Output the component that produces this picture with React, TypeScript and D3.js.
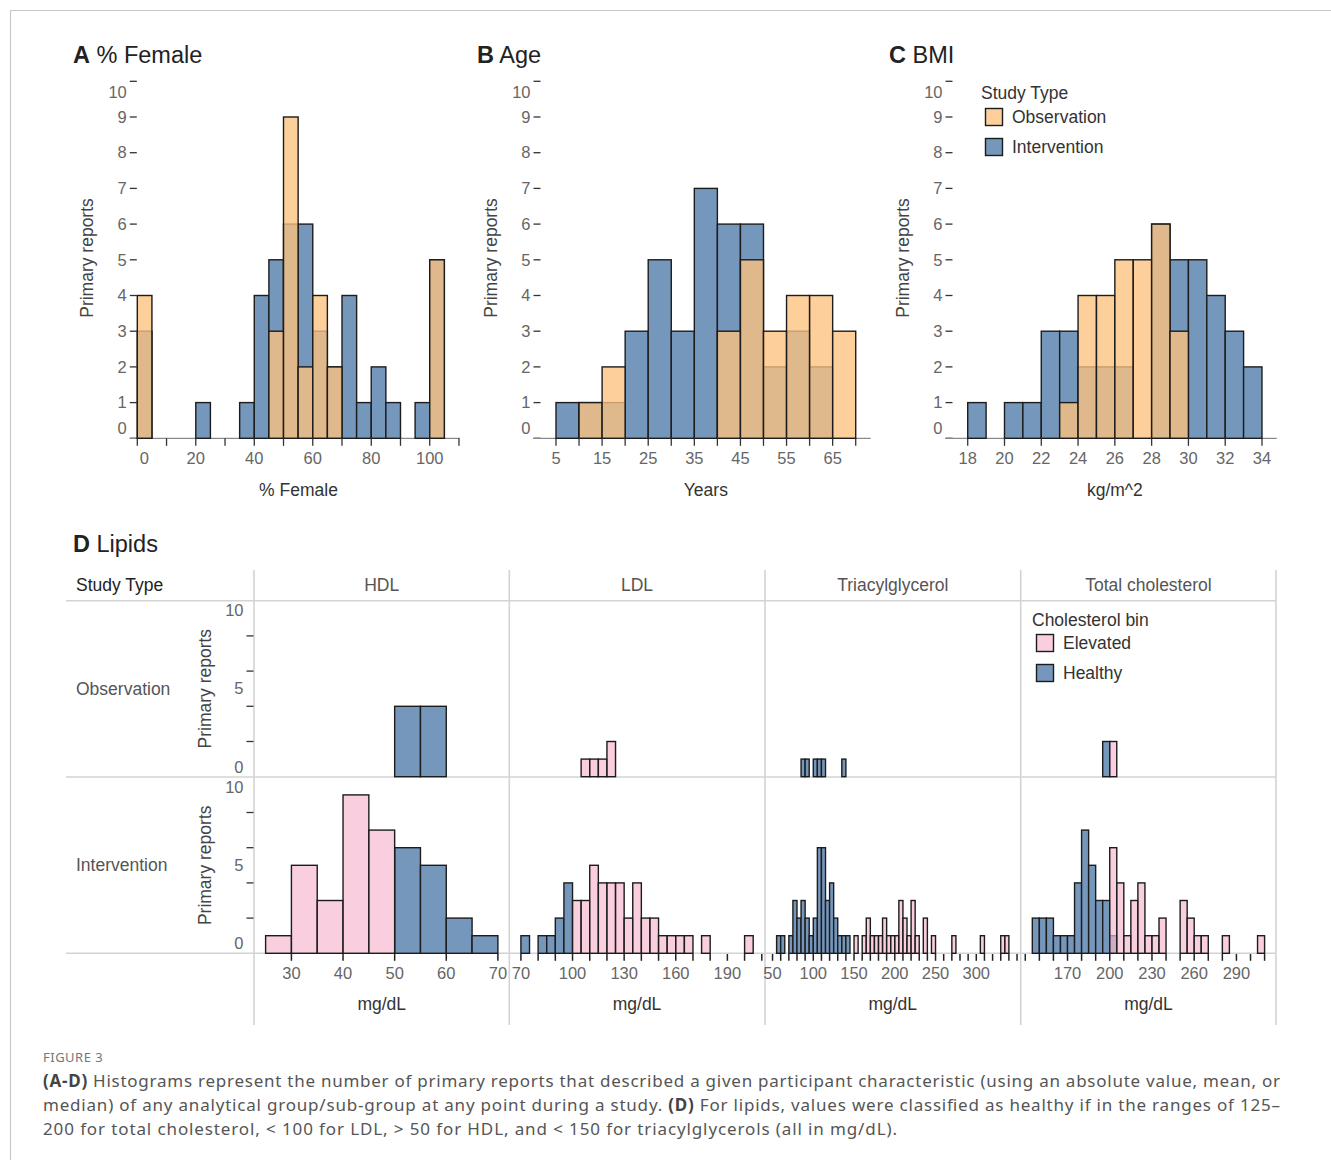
import React from 'react';
import * as d3 from 'd3';

// ---------------- Panel A: % Female (bin width 5) ----------------
const femaleBinStarts = [0, 5, 10, 15, 20, 25, 30, 35, 40, 45, 50, 55, 60, 65, 70, 75, 80, 85, 90, 95, 100];
const femaleObservation = [4, 0, 0, 0, 0, 0, 0, 0, 0, 3, 9, 2, 4, 2, 0, 0, 0, 0, 0, 0, 5];
const femaleIntervention = [3, 0, 0, 0, 1, 0, 0, 1, 4, 5, 6, 6, 3, 2, 4, 1, 2, 1, 0, 1, 5];
const femaleTicks = [0, 10, 20, 30, 40, 50, 60, 70, 80, 90, 100, 110];
const femaleTickLabels = [0, 20, 40, 60, 80, 100];

// ---------------- Panel B: Age (bin width 5) ----------------
const ageBinStarts = [5, 10, 15, 20, 25, 30, 35, 40, 45, 50, 55, 60, 65];
const ageObservation = [0, 1, 2, 0, 0, 0, 0, 3, 5, 3, 4, 4, 3];
const ageIntervention = [1, 1, 1, 3, 5, 3, 7, 6, 6, 2, 3, 2, 0];
const ageTicks = [5, 10, 15, 20, 25, 30, 35, 40, 45, 50, 55, 60, 65, 70];
const ageTickLabels = [5, 15, 25, 35, 45, 55, 65];

// ---------------- Panel C: BMI (bin width 1) ----------------
const bmiBinStarts = [18, 19, 20, 21, 22, 23, 24, 25, 26, 27, 28, 29, 30, 31, 32, 33];
const bmiObservation = [0, 0, 0, 0, 0, 1, 4, 4, 5, 5, 6, 3, 0, 0, 0, 0];
const bmiIntervention = [1, 0, 1, 1, 3, 3, 2, 2, 2, 0, 6, 5, 5, 4, 3, 2];
const bmiTicks = [18, 20, 22, 24, 26, 28, 30, 32, 34];
const bmiTickLabels = [18, 20, 22, 24, 26, 28, 30, 32, 34];

const countTicks = [0, 1, 2, 3, 4, 5, 6, 7, 8, 9, 10];

// ---------------- Panel D: Lipids, [bin start, count] (bin width 5) ----------------
const hdlObsHealthy = [[50, 4], [55, 4]];
const hdlObsElevated: number[][] = [];
const hdlIntHealthy = [[50, 6], [55, 5], [60, 2], [65, 1]];
const hdlIntElevated = [[25, 1], [30, 5], [35, 3], [40, 9], [45, 7]];
const hdlTicks = [30, 40, 50, 60, 70];
const hdlTickLabels = [30, 40, 50, 60, 70];

const ldlObsHealthy: number[][] = [];
const ldlObsElevated = [[105, 1], [110, 1], [115, 1], [120, 2]];
const ldlIntHealthy = [[70, 1], [80, 1], [85, 1], [90, 2], [95, 4]];
const ldlIntElevated = [[100, 3], [105, 3], [110, 5], [115, 4], [120, 4], [125, 4], [130, 2], [135, 4], [140, 2], [145, 2], [150, 1], [155, 1], [160, 1], [165, 1], [175, 1], [200, 1]];
const ldlTicks = [70, 80, 90, 100, 110, 120, 130, 140, 150, 160, 170, 180, 190, 200, 210];
const ldlTickLabels = [70, 100, 130, 160, 190];

const triObsHealthy = [[85, 1], [90, 1], [100, 1], [105, 1], [110, 1], [135, 1]];
const triObsElevated: number[][] = [];
const triIntHealthy = [[55, 1], [60, 1], [70, 1], [75, 3], [80, 2], [85, 3], [90, 2], [95, 1], [100, 2], [105, 6], [110, 6], [115, 3], [120, 4], [125, 2], [130, 1], [135, 1], [140, 1]];
const triIntElevated = [[150, 1], [160, 1], [165, 2], [170, 1], [175, 1], [180, 1], [185, 2], [190, 1], [195, 1], [200, 1], [205, 3], [210, 2], [215, 1], [220, 3], [225, 1], [235, 2], [245, 1], [270, 1], [305, 1], [330, 1], [335, 1]];
const triTicks = [50, 60, 70, 80, 90, 100, 110, 120, 130, 140, 150, 160, 170, 180, 190, 200, 210, 220, 230, 240, 250, 260, 270, 280, 290, 300, 310, 320, 330, 340, 350];
const triTickLabels = [50, 100, 150, 200, 250, 300];

const tcObsHealthy = [[195, 2]];
const tcObsElevated = [[200, 2]];
const tcIntHealthy = [[145, 2], [150, 2], [155, 2], [160, 1], [165, 1], [170, 1], [175, 4], [180, 7], [185, 5], [190, 3], [195, 3], [200, 1]];
const tcIntElevated = [[200, 6], [205, 4], [210, 1], [215, 3], [220, 4], [225, 1], [230, 1], [235, 2], [250, 3], [255, 2], [260, 1], [265, 1], [280, 1], [305, 1]];
const tcTicks = [140, 150, 160, 170, 180, 190, 200, 210, 220, 230, 240, 250, 260, 270, 280, 290, 300, 310];
const tcTickLabels = [170, 200, 230, 260, 290];

const lipidTickLabelsY = [0, 5, 10];
const lipidTickMarksY = [2, 4, 6, 8];

// ---------------- styles ----------------
const W = 1331;
const H = 1160;
const FONT = '"Liberation Sans", Arial, Helvetica, sans-serif';
const CAPTION_FONT = '"Noto Sans", "Open Sans", sans-serif';
const BLUE = '#7697bc';
const ORANGE = 'rgb(253,195,127)';
const ORANGE_OP = 0.78;
const PINK = 'rgb(246,183,206)';
const PINK_OP = 0.68;
const OUTLINE = '#1c1c1c';
const TICK_TEXT = '#666';
const TITLE_TEXT = '#333';
const GRID = '#d3d3d3';
const TXT = 17.5;
const TICK_FS = 16.5;

const TOP_Y0 = 438.3;
const TOP_Y10 = 81.3;

interface TopSpec {
  letter: string;
  name: string;
  titleX: number;
  left: number;
  right: number;
  domain: [number, number];
  starts: number[];
  bw: number;
  obs: number[];
  int: number[];
  ticks: number[];
  labels: number[];
  xTitle: string;
  firstLabelDx: number;
}

const topPanels: TopSpec[] = [
  { letter: 'A', name: '% Female', titleX: 73, left: 137.3, right: 459.7, domain: [0, 110.25], starts: femaleBinStarts, bw: 5, obs: femaleObservation, int: femaleIntervention, ticks: femaleTicks, labels: femaleTickLabels, xTitle: '% Female', firstLabelDx: 7 },
  { letter: 'B', name: 'Age', titleX: 477, left: 541, right: 870.7, domain: [1.75, 73.25], starts: ageBinStarts, bw: 5, obs: ageObservation, int: ageIntervention, ticks: ageTicks, labels: ageTickLabels, xTitle: 'Years', firstLabelDx: 0 },
  { letter: 'C', name: 'BMI', titleX: 889, left: 953, right: 1276.7, domain: [17.2, 34.8], starts: bmiBinStarts, bw: 1, obs: bmiObservation, int: bmiIntervention, ticks: bmiTicks, labels: bmiTickLabels, xTitle: 'kg/m^2', firstLabelDx: 0 },
];

function Bars({ data, bw, xs, ys, fill, opacity }: { data: number[][]; bw: number; xs: any; ys: any; fill: string; opacity: number }) {
  return (
    <g>
      {data.filter((d) => d[1] > 0).map(([s, c], i) => (
        <rect
          key={i}
          x={xs(s)}
          y={ys(c)}
          width={xs(s + bw) - xs(s)}
          height={ys(0) - ys(c)}
          fill={fill}
          fillOpacity={opacity}
          stroke={OUTLINE}
          strokeWidth={1.4}
        />
      ))}
    </g>
  );
}

function labelShift(v: number) {
  if (v === 10) return 10.5;
  if (v === 0) return -10.5;
  return 0;
}

function TopPanel({ p }: { p: TopSpec }) {
  const xs = d3.scaleLinear().domain(p.domain).range([p.left, p.right]);
  const ys = d3.scaleLinear().domain([0, 10]).range([TOP_Y0, TOP_Y10]);
  const intPairs = p.starts.map((s, i) => [s, p.int[i]]);
  const obsPairs = p.starts.map((s, i) => [s, p.obs[i]]);
  const cx = (p.left + p.right) / 2;
  return (
    <g>
      <text x={p.titleX} y={63} fontSize={23.5} fill="#222">
        <tspan fontWeight="bold">{p.letter}</tspan>
        {' ' + p.name}
      </text>
      {countTicks.map((v) => (
        <g key={'yt' + v}>
          <line x1={p.left - 7.5} x2={p.left - 0.5} y1={ys(v)} y2={ys(v)} stroke="#333" strokeWidth={1.3} />
          <text x={p.left - 10.5} y={ys(v) + labelShift(v)} dy="0.35em" textAnchor="end" fontSize={TICK_FS} fill={TICK_TEXT}>
            {v}
          </text>
        </g>
      ))}
      <line x1={p.left - 7.5} x2={p.right} y1={ys(0)} y2={ys(0)} stroke="#8a8a8a" strokeWidth={1.3} />
      <Bars data={intPairs} bw={p.bw} xs={xs} ys={ys} fill={BLUE} opacity={1} />
      <Bars data={obsPairs} bw={p.bw} xs={xs} ys={ys} fill={ORANGE} opacity={ORANGE_OP} />
      {p.ticks.map((t) => (
        <line key={'xt' + t} x1={xs(t)} x2={xs(t)} y1={ys(0)} y2={ys(0) + 7.5} stroke="#333" strokeWidth={1.3} />
      ))}
      {p.labels.map((t, i) => (
        <text key={'xl' + t} x={xs(t) + (i === 0 ? p.firstLabelDx : 0)} y={458.5} dy="0.35em" textAnchor="middle" fontSize={TICK_FS} fill={TICK_TEXT}>
          {t}
        </text>
      ))}
      <text x={cx} y={490} dy="0.35em" textAnchor="middle" fontSize={TXT} fill={TITLE_TEXT}>
        {p.xTitle}
      </text>
      <text transform={`translate(${p.left - 50},258) rotate(-90)`} dy="0.35em" textAnchor="middle" fontSize={TXT} fill="#444">
        Primary reports
      </text>
    </g>
  );
}

function StudyLegend() {
  return (
    <g fontSize={TXT}>
      <text x={981} y={93} dy="0.35em" fill={TITLE_TEXT}>Study Type</text>
      <rect x={985.5} y={108.5} width={17} height={17} fill={ORANGE} fillOpacity={ORANGE_OP} stroke={OUTLINE} strokeWidth={1.4} />
      <text x={1012} y={117} dy="0.35em" fill={TITLE_TEXT}>Observation</text>
      <rect x={985.5} y={138.5} width={17} height={17} fill={BLUE} stroke={OUTLINE} strokeWidth={1.4} />
      <text x={1012} y={147} dy="0.35em" fill={TITLE_TEXT}>Intervention</text>
    </g>
  );
}

// ---------------- Panel D ----------------
const LIPID_BW = 5;
const D_LEFTS = [254, 509.3, 765, 1020.7];
const D_W = 255.5;
const D_RIGHT = 1276;
const OBS_Y = [776.7, 600.7];
const INT_Y = [953.3, 777.3];

const lipidColumns = [
  { name: 'HDL', obsH: hdlObsHealthy, obsE: hdlObsElevated, intH: hdlIntHealthy, intE: hdlIntElevated, ticks: hdlTicks, labels: hdlTickLabels },
  { name: 'LDL', obsH: ldlObsHealthy, obsE: ldlObsElevated, intH: ldlIntHealthy, intE: ldlIntElevated, ticks: ldlTicks, labels: ldlTickLabels },
  { name: 'Triacylglycerol', obsH: triObsHealthy, obsE: triObsElevated, intH: triIntHealthy, intE: triIntElevated, ticks: triTicks, labels: triTickLabels },
  { name: 'Total cholesterol', obsH: tcObsHealthy, obsE: tcObsElevated, intH: tcIntHealthy, intE: tcIntElevated, ticks: tcTicks, labels: tcTickLabels },
];

function LipidPanel() {
  const rows = [
    { label: 'Observation', range: OBS_Y },
    { label: 'Intervention', range: INT_Y },
  ];
  return (
    <g>
      <text x={73} y={552} fontSize={23.5} fill="#222">
        <tspan fontWeight="bold">D</tspan>
        {' Lipids'}
      </text>
      {[600.7, 777, 953.3].map((y) => (
        <line key={'h' + y} x1={66} x2={D_RIGHT} y1={y} y2={y} stroke={GRID} strokeWidth={1.6} />
      ))}
      {[...D_LEFTS, D_RIGHT].map((x) => (
        <line key={'v' + x} x1={x} x2={x} y1={570} y2={1025} stroke={GRID} strokeWidth={1.6} />
      ))}
      <text x={76} y={585} dy="0.35em" fontSize={TXT} fill="#222">Study Type</text>
      {lipidColumns.map((c, i) => (
        <text key={'hdr' + c.name} x={D_LEFTS[i] + D_W / 2} y={585} dy="0.35em" textAnchor="middle" fontSize={TXT} fill="#555">
          {c.name}
        </text>
      ))}
      {rows.map((r) => {
        const ys = d3.scaleLinear().domain([0, 10]).range(r.range);
        const mid = ys(5);
        return (
          <g key={r.label}>
            <text x={76} y={mid} dy="0.35em" fontSize={TXT} fill="#555">{r.label}</text>
            <text transform={`translate(205,${mid}) rotate(-90)`} dy="0.35em" textAnchor="middle" fontSize={TXT} fill="#444">
              Primary reports
            </text>
            {lipidTickMarksY.map((v) => (
              <line key={'tm' + v} x1={246.5} x2={253.5} y1={ys(v)} y2={ys(v)} stroke="#333" strokeWidth={1.3} />
            ))}
            {lipidTickLabelsY.map((v) => (
              <text key={'tl' + v} x={243.5} y={ys(v) + labelShift(v) * 0.92} dy="0.35em" textAnchor="end" fontSize={TICK_FS} fill={TICK_TEXT}>
                {v}
              </text>
            ))}
          </g>
        );
      })}
      {lipidColumns.map((c, i) => {
        const all = [...c.obsH, ...c.obsE, ...c.intH, ...c.intE];
        const lo = d3.min(all, (d) => d[0]) as number;
        const hi = (d3.max(all, (d) => d[0]) as number) + LIPID_BW;
        const pad = (hi - lo) * 0.05;
        const xs = d3.scaleLinear().domain([lo - pad, hi + pad]).range([D_LEFTS[i], D_LEFTS[i] + D_W]);
        const ysObs = d3.scaleLinear().domain([0, 10]).range(OBS_Y);
        const ysInt = d3.scaleLinear().domain([0, 10]).range(INT_Y);
        const cx = D_LEFTS[i] + D_W / 2;
        return (
          <g key={'col' + c.name}>
            <Bars data={c.obsH} bw={LIPID_BW} xs={xs} ys={ysObs} fill={BLUE} opacity={1} />
            <Bars data={c.obsE} bw={LIPID_BW} xs={xs} ys={ysObs} fill={PINK} opacity={PINK_OP} />
            <Bars data={c.intH} bw={LIPID_BW} xs={xs} ys={ysInt} fill={BLUE} opacity={1} />
            <Bars data={c.intE} bw={LIPID_BW} xs={xs} ys={ysInt} fill={PINK} opacity={PINK_OP} />
            {c.ticks.map((t) => (
              <line key={'xt' + t} x1={xs(t)} x2={xs(t)} y1={954} y2={960.8} stroke="#222" strokeWidth={1.5} />
            ))}
            {c.labels.map((t) => (
              <text key={'xl' + t} x={xs(t)} y={973.5} dy="0.35em" textAnchor="middle" fontSize={TICK_FS} fill={TICK_TEXT}>
                {t}
              </text>
            ))}
            <text x={cx} y={1004} dy="0.35em" textAnchor="middle" fontSize={TXT} fill={TITLE_TEXT}>
              mg/dL
            </text>
          </g>
        );
      })}
      <g fontSize={TXT}>
        <text x={1032} y={620} dy="0.35em" fill={TITLE_TEXT}>Cholesterol bin</text>
        <rect x={1036.5} y={634.5} width={17} height={17} fill={PINK} fillOpacity={PINK_OP} stroke={OUTLINE} strokeWidth={1.4} />
        <text x={1063} y={643} dy="0.35em" fill={TITLE_TEXT}>Elevated</text>
        <rect x={1036.5} y={664.5} width={17} height={17} fill={BLUE} stroke={OUTLINE} strokeWidth={1.4} />
        <text x={1063} y={673} dy="0.35em" fill={TITLE_TEXT}>Healthy</text>
      </g>
    </g>
  );
}

function Caption() {
  return (
    <g fontFamily={CAPTION_FONT} fill="#555">
      <text x={43} y={1057} dy="0.35em" fontSize={13} letterSpacing={0.5} fill="#777">FIGURE 3</text>
      <text x={43} y={1081} dy="0.35em" fontSize={17} textLength={1237} lengthAdjust="spacing">
        <tspan fontWeight="bold" fill="#444">(A-D)</tspan>
        {' Histograms represent the number of primary reports that described a given participant characteristic (using an absolute value, mean, or'}
      </text>
      <text x={43} y={1105} dy="0.35em" fontSize={17} textLength={1237} lengthAdjust="spacing">
        {'median) of any analytical group/sub-group at any point during a study. '}
        <tspan fontWeight="bold" fill="#444">(D)</tspan>
        {' For lipids, values were classified as healthy if in the ranges of 125–'}
      </text>
      <text x={43} y={1129} dy="0.35em" fontSize={17} textLength={854} lengthAdjust="spacing">
        {'200 for total cholesterol, < 100 for LDL, > 50 for HDL, and < 150 for triacylglycerols (all in mg/dL).'}
      </text>
    </g>
  );
}

export default function App() {
  return (
    <svg
      width={W}
      height={H}
      viewBox={`0 0 ${W} ${H}`}
      style={{ position: 'absolute', left: 0, top: 0, background: '#fff' }}
      fontFamily={FONT}
    >
      <rect x={0} y={0} width={W} height={H} fill="#fff" />
      <path d={`M10.5,${H} V10.5 H${W}`} fill="none" stroke="#c8c8c8" strokeWidth={1.2} />
      {topPanels.map((p) => (
        <TopPanel key={p.letter} p={p} />
      ))}
      <StudyLegend />
      <LipidPanel />
      <Caption />
    </svg>
  );
}
